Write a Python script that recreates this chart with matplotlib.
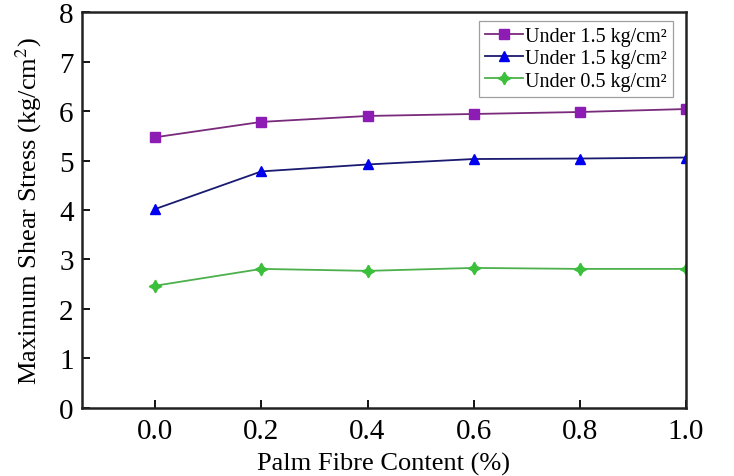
import matplotlib
matplotlib.use("Agg")
import matplotlib.pyplot as plt

fibre = [0.0, 0.2, 0.4, 0.6, 0.8, 1.0]
s_top = [5.47, 5.78, 5.90, 5.94, 5.98, 6.04]
s_mid = [4.02, 4.78, 4.92, 5.03, 5.04, 5.06]
s_low = [2.47, 2.81, 2.77, 2.83, 2.81, 2.81]
labels = ["Under 1.5 kg/cm²", "Under 1.5 kg/cm²", "Under 0.5 kg/cm²"]
xticks = [0.0, 0.2, 0.4, 0.6, 0.8, 1.0]
yticks = [0, 1, 2, 3, 4, 5, 6, 7, 8]

plt.rcParams['font.family'] = ['Liberation Serif', 'DejaVu Serif']
plt.rcParams['mathtext.fontset'] = 'stix'

fig = plt.figure(figsize=(7.34, 4.77), dpi=100)
ax = fig.add_axes([0.1117, 0.1426, 0.8229, 0.8301])

ax.plot(fibre, s_top, color='#7a2a7a', lw=1.3, marker='s', ms=7,
        mfc='#8c1cb4', mec='#8c1cb4', label=labels[0])
ax.plot(fibre, s_mid, color='#1a1a70', lw=1.3, marker='^', ms=7.5,
        mfc='#0000ee', mec='#0000ee', label=labels[1])
ax.plot(fibre, s_low, color='#4cb04c', lw=1.3, marker=(4, 1, 0), ms=9,
        mfc='#3cc03c', mec='#3cc03c', label=labels[2])

ax.set_xlim(-0.138, 1.0)
ax.set_ylim(0, 8)
ax.set_xticks(xticks)
ax.set_xticklabels([f"{v:.1f}" for v in xticks])
ax.set_yticks(yticks)
ax.tick_params(direction='in', length=6, width=1.3, labelsize=21)
ax.tick_params(axis='x', pad=7)
ax.tick_params(axis='y', pad=6)
for s in ax.spines.values():
    s.set_linewidth(1.8)
    s.set_color('#222222')

ax.set_xlabel("Palm Fibre Content (%)", fontsize=19, labelpad=6)
ax.set_ylabel("Maximum Shear Stress (kg/cm$^2$)", fontsize=19, labelpad=11)

leg = ax.legend(loc='upper right', bbox_to_anchor=(0.978, 0.977), fontsize=14.5,
                frameon=True, fancybox=False, edgecolor='#888888', borderpad=0.3,
                labelspacing=0.15, handlelength=1.9, handletextpad=0.1,
                borderaxespad=0.0)
leg.get_frame().set_linewidth(0.9)

fig.savefig("out.png", dpi=100)
